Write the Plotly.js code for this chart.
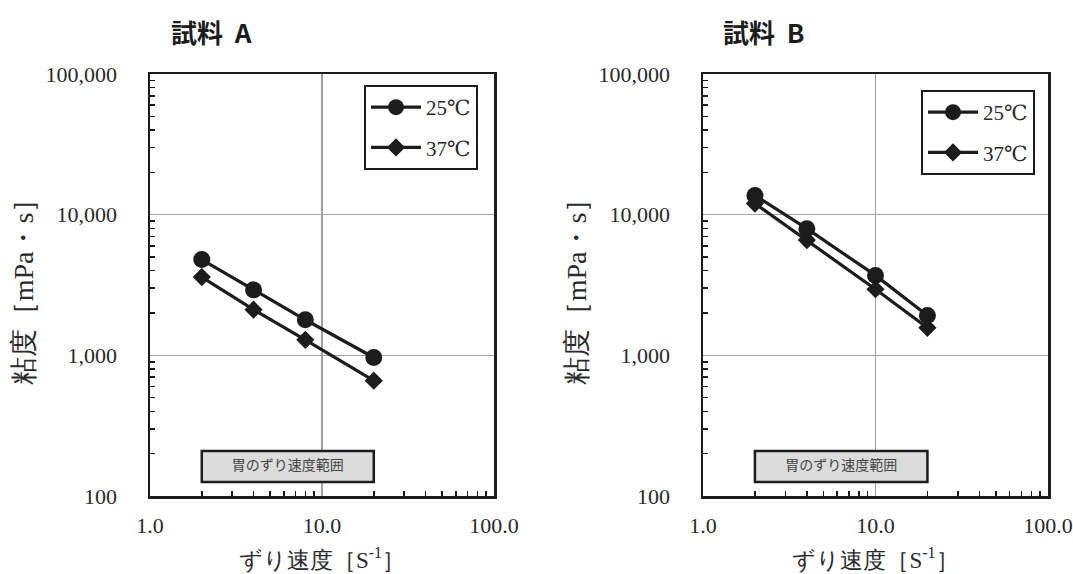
<!DOCTYPE html>
<html>
<head>
<meta charset="utf-8">
<script src="https://cdn.plot.ly/plotly-3.0.1.min.js"></script>
<style>html,body{margin:0;padding:0;background:#fff;}</style>
</head>
<body>
<div id="chart" style="width:1073px;height:574px;"></div>
<script>
// Data
const panelTitles = ['試料 A', '試料 B'];
const seriesNames = ['25℃', '37℃'];
const shearA = [2, 4, 8, 20];
const visA25 = [4800, 2920, 1790, 965];
const visA37 = [3600, 2110, 1290, 660];
const shearB = [2, 4, 10, 20];
const visB25 = [13700, 7950, 3700, 1920];
const visB37 = [12000, 6600, 2950, 1570];
const stomachRange = [2, 20];
const stomachLabel = '胃のずり速度範囲';
const xTickVals = [1, 10, 100];
const xTickText = ['1.0', '10.0', '100.0'];
const xMinorVals = [2, 3, 4, 5, 6, 7, 8, 9, 20, 30, 40, 50, 60, 70, 80, 90];
const yTickVals = [100, 1000, 10000, 100000];
const yTickText = ['100', '1,000', '10,000', '100,000'];
const yMinorVals = [200, 300, 400, 500, 600, 700, 800, 900,
                    2000, 3000, 4000, 5000, 6000, 7000, 8000, 9000,
                    20000, 30000, 40000, 50000, 60000, 70000, 80000, 90000];
const xTitle = 'ずり速度［S<sup>-1</sup>］';
const yTitle = '粘度［mPa・s］';

const ink = '#1c1c1c';
const textInk = '#2a2a2a';
const serif = 'Liberation Serif, DejaVu Serif, Times New Roman, serif';
const cjk = 'Noto Sans CJK JP, sans-serif';

function tr(x, y, name, sym, xa, ya, leg) {
  return {
    x: x, y: y, name: name, type: 'scatter', mode: 'lines+markers',
    xaxis: xa, yaxis: ya, legend: leg, legendgroup: leg + name,
    line: {color: ink, width: 3.2},
    marker: {symbol: sym, size: sym === 'circle' ? 17 : 14, color: ink},
    hoverinfo: 'skip'
  };
}

const data = [
  tr(shearA, visA25, seriesNames[0], 'circle', 'x', 'y', 'legend'),
  tr(shearA, visA37, seriesNames[1], 'diamond', 'x', 'y', 'legend'),
  tr(shearB, visB25, seriesNames[0], 'circle', 'x2', 'y2', 'legend2'),
  tr(shearB, visB37, seriesNames[1], 'diamond', 'x2', 'y2', 'legend2')
];

function xax(domain, anchor) {
  return {
    type: 'log', range: [0, 2], domain: domain, anchor: anchor,
    showline: true, linecolor: ink, linewidth: 2.5, mirror: true,
    showgrid: true, gridcolor: '#a0a0a0', gridwidth: 1.3,
    zeroline: false,
    tickmode: 'array', tickvals: xTickVals, ticktext: xTickText, ticks: '',
    ticklabelstandoff: 8,
    tickfont: {family: serif, size: 22, color: textInk},
    minor: {tickmode: 'array', tickvals: xMinorVals, ticks: 'inside', ticklen: 5,
            tickwidth: 1.5, tickcolor: ink, showgrid: false},
    title: {text: xTitle, font: {family: serif, size: 23, color: textInk}, standoff: 15},
    automargin: false, fixedrange: true
  };
}
function yax(domain, anchor) {
  return {
    type: 'log', range: [2, 5], domain: domain, anchor: anchor,
    showline: true, linecolor: ink, linewidth: 2.5, mirror: true,
    showgrid: true, gridcolor: '#a0a0a0', gridwidth: 1.3,
    zeroline: false,
    tickmode: 'array', tickvals: yTickVals, ticktext: yTickText, ticks: '',
    ticklabelstandoff: 26,
    tickfont: {family: serif, size: 22, color: textInk},
    minor: {tickmode: 'array', tickvals: yMinorVals, ticks: 'inside', ticklen: 5,
            tickwidth: 1.5, tickcolor: ink, showgrid: false},
    title: {text: yTitle, font: {family: serif, size: 28, color: textInk}, standoff: 4},
    automargin: false, fixedrange: true
  };
}

const W = 1073, H = 574;
const yDom = [1 - 496 / H, 1 - 74 / H];

function legendCfg(px, py) {
  return {
    x: px / W, y: 1 - py / H, xanchor: 'left', yanchor: 'top',
    bgcolor: '#fff', bordercolor: ink, borderwidth: 2,
    font: {family: serif, size: 21, color: textInk},
    tracegroupgap: 10, itemwidth: 50
  };
}

function rangeBox(xref, yref) {
  return {
    type: 'rect', xref: xref, yref: yref,
    x0: stomachRange[0], x1: stomachRange[1], y0: 126, y1: 209,
    fillcolor: '#dcdcdc', line: {color: ink, width: 2.5},
    label: {text: stomachLabel, textposition: 'middle center',
            font: {family: cjk, size: 14, color: '#444'}}
  };
}

function titleText(t) { return '<b>' + t.replace(' ', '&nbsp;&nbsp;') + '</b>'; }

const layout = {
  width: W, height: H,
  margin: {l: 0, r: 0, t: 0, b: 0},
  paper_bgcolor: '#fff', plot_bgcolor: '#fff',
  xaxis: xax([150 / W, 494 / W], 'y'),
  yaxis: yax(yDom, 'x'),
  xaxis2: xax([703 / W, 1048 / W], 'y2'),
  yaxis2: yax(yDom, 'x2'),
  showlegend: true,
  legend: legendCfg(364, 85),
  legend2: legendCfg(921, 90),
  shapes: [rangeBox('x', 'y'), rangeBox('x2', 'y2')],
  annotations: [
    {text: titleText(panelTitles[0]), xref: 'paper', yref: 'paper',
     x: 169 / W, y: 1 - 31 / H, xanchor: 'left', yanchor: 'middle', showarrow: false,
     font: {family: cjk, size: 26, color: ink}},
    {text: titleText(panelTitles[1]), xref: 'paper', yref: 'paper',
     x: 721 / W, y: 1 - 31 / H, xanchor: 'left', yanchor: 'middle', showarrow: false,
     font: {family: cjk, size: 26, color: ink}}
  ]
};

Plotly.newPlot('chart', data, layout, {displayModeBar: false, staticPlot: true});
</script>
</body>
</html>
